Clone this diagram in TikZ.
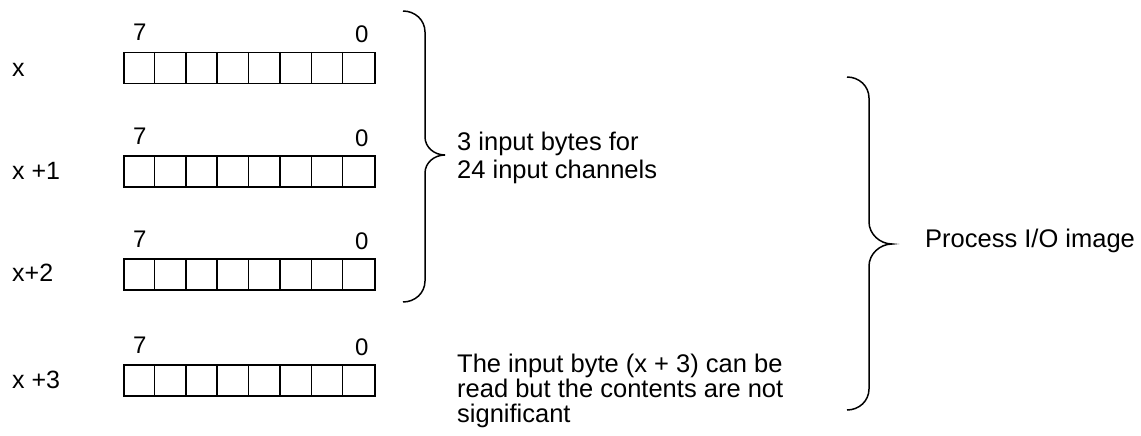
\documentclass[tikz,border=0pt]{standalone}
\usepackage{fontspec}
\setmainfont{Liberation Sans}
\usetikzlibrary{calc}
\begin{document}
\begin{tikzpicture}[x=1pt,y=-1pt,
  lbl/.style={inner sep=0pt,font=\fontsize{25}{28}\selectfont},
  bitlbl/.style={inner sep=0pt,font=\fontsize{24}{28}\selectfont},
  reg/.style={draw,line width=1.5pt,minimum width=251pt,minimum height=31pt,inner sep=0pt,anchor=north west},
  bracepath/.style={draw,line width=1.5pt}]
\useasboundingbox (0,0) rectangle (1141,436);
% registers
\foreach \i/\t in {1/52,2/155,3/258,4/364}{
  \node[reg] (r\i) at (123,\t) {};
  \foreach \k in {1,...,7}{
    \draw[line width=1.5pt] ($(r\i.north west)+(\k*31.375,0)$) -- ($(r\i.south west)+(\k*31.375,0)$);
  }
  \node[bitlbl,anchor=base west] (s\i) at (133,\t-11) {7};
  \node[bitlbl,anchor=base west] (z\i) at (355,\t-9) {0};
}
% row labels
\node[lbl,anchor=base west] (l1) at (12,77) {x};
\node[lbl,anchor=base west] (l2) at (12,179) {x +1};
\node[lbl,anchor=base west] (l3) at (12,281) {x+2};
\node[lbl,anchor=base west] (l4) at (12,388) {x +3};
% brace 1
\draw[bracepath] (403,11) .. controls (415,11) and (425,20) .. (425,32)
  -- (425,137) .. controls (425,147) and (434,155) .. (445,155)
  .. controls (434,155) and (425,163) .. (425,173)
  -- (425,281) .. controls (425,293) and (415,302) .. (403,302);
% brace 2
\draw[bracepath] (847,77) .. controls (859,77) and (869,86) .. (869,98)
  -- (869,222) .. controls (869,234) and (880,244) .. (892,244)
  .. controls (880,244) and (869,254) .. (869,266)
  -- (869,389) .. controls (869,401) and (859,410) .. (847,410);
% texts
\node[lbl,align=left,anchor=north west,font=\fontsize{25.5}{28}\selectfont] (t1) at (457,131.5) {3 input bytes for\\24 input channels};
\node[lbl,align=left,anchor=north west,font=\fontsize{25.5}{25}\selectfont] (t2) at (457,354) {The input byte (x + 3) can be\\read but the contents are not\\significant};
\node[lbl,anchor=base west,font=\fontsize{25.5}{28}\selectfont] (t3) at (925,247) {Process I/O image};
\end{tikzpicture}
\end{document}
